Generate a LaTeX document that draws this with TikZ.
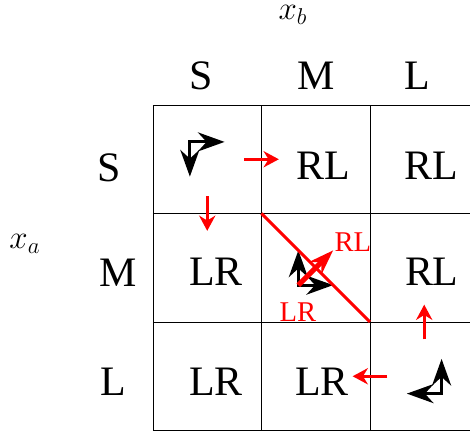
\documentclass[tikz,border=0pt]{standalone}
\usepackage{fontspec}
\setmainfont{Liberation Serif}
\usetikzlibrary{arrows.meta}

\begin{document}
\begin{tikzpicture}[x=2cm, y=2cm,
  big/.style={font=\fontsize{22}{26}\selectfont, inner sep=0pt},
  tag/.style={text=red, font=\fontsize{15}{18}\selectfont, inner sep=0pt},
  axis/.style={font=\fontsize{18}{22}\selectfont, inner sep=0pt},
  move/.style={{Stealth[length=14pt, width=10pt]}-{Stealth[length=14pt, width=10pt]}, line width=1.5pt},
  push/.style={-{Stealth[length=8pt, width=8.5pt]}, red, line width=1.6pt},
  split/.style={red, line width=1.6pt}
]
  \useasboundingbox (-1.41, 0.968) rectangle (2.922, -3.014);

  \draw[thin, step=2cm] (0,-3) grid (3,0);

  % axis and labels
  \node[axis] (xb) at (1.29, 0.83) {$x_b$};
  \node[axis] (xa) at (-1.18, -1.28) {$x_a$};
  \node[big] (cS) at (0.44, 0.267) {S};
  \node[big] (cM) at (1.50, 0.267) {M};
  \node[big] (cL) at (2.44, 0.267) {L};
  \node[big] (rS) at (-0.40, -0.576) {S};
  \node[big] (rM) at (-0.32, -1.548) {M};
  \node[big] (rL) at (-0.37, -2.548) {L};

  % cell contents
  \node[big] (sm) at (1.567, -0.562) {RL};
  \node[big] (sl) at (2.562, -0.562) {RL};
  \node[big] (ms) at (0.58, -1.54) {LR};
  \node[big] (ml) at (2.57, -1.54) {RL};
  \node[big] (ls) at (0.58, -2.553) {LR};
  \node[big] (lm) at (1.558, -2.553) {LR};
  \node[tag] (rl) at (1.843, -1.263) {RL};
  \node[tag] (lr) at (1.336, -1.908) {LR};

  % corner arrows
  \coordinate (ss) at (0.34, -0.34);
  \coordinate (ssd) at (0.34, -0.66);
  \coordinate (ssr) at (0.66, -0.34);
  \coordinate (mm) at (1.34, -1.66);
  \coordinate (mmu) at (1.34, -1.34);
  \coordinate (mmr) at (1.66, -1.66);
  \coordinate (mmd) at (1.66, -1.34);
  \coordinate (ll) at (2.66, -2.66);
  \coordinate (llu) at (2.66, -2.34);
  \coordinate (lll) at (2.34, -2.66);

  \draw[move] (ssd) -- (ss) -- (ssr);
  \draw[move] (mmu) -- (mm) -- (mmr);
  \draw[move] (lll) -- (ll) -- (llu);

  % red transitions
  \coordinate (a1) at (0.84, -0.5);
  \coordinate (a2) at (1.16, -0.5);
  \coordinate (b1) at (0.5, -0.84);
  \coordinate (b2) at (0.5, -1.16);
  \coordinate (c1) at (2.5, -2.16);
  \coordinate (c2) at (2.5, -1.84);
  \coordinate (d1) at (2.16, -2.5);
  \coordinate (d2) at (1.84, -2.5);
  \coordinate (e1) at (1, -1);
  \coordinate (e2) at (2, -2);

  \draw[push] (a1) -- (a2);
  \draw[push] (b1) -- (b2);
  \draw[push] (c1) -- (c2);
  \draw[push] (d1) -- (d2);
  \draw[split] (e1) -- (e2);
  \draw[-{Stealth[length=13pt, width=9pt]}, red, line width=2.6pt] (mm) -- (mmd);
\end{tikzpicture}
\end{document}
